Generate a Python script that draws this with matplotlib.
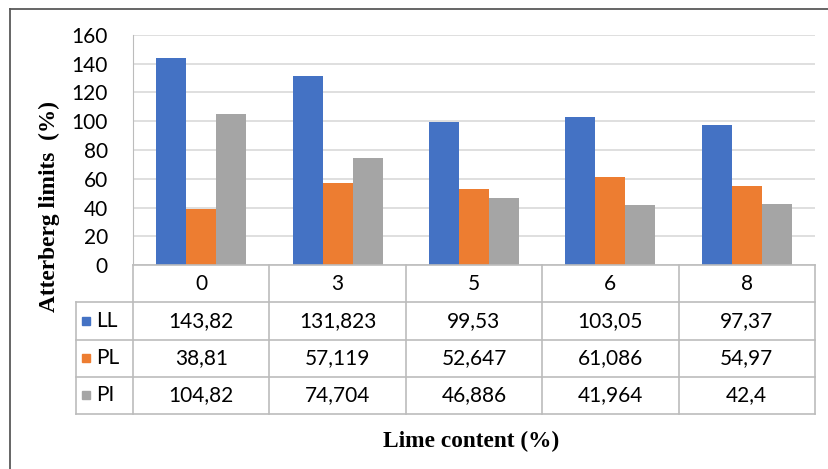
import matplotlib.pyplot as plt
from matplotlib.patches import Rectangle

# Lime content (%) and Atterberg limits
lime = ['0', '3', '5', '6', '8']
series = ['LL', 'PL', 'PI']
LL = [143.82, 131.823, 99.53, 103.05, 97.37]
PL = [38.81, 57.119, 52.647, 61.086, 54.97]
PI = [104.82, 74.704, 46.886, 41.964, 42.4]
colors = ['#4472C4', '#ED7D31', '#A5A5A5']

W, H = 829, 469
fig = plt.figure(figsize=(W / 100, H / 100), dpi=100)
num_font = 'Lato'
fs = 15
grid_c = '#d9d9d9'
tab_c = '#bcbcbc'


def px(x0, y0, x1, y1):
    # pixel box (top-left origin) -> figure fraction rect
    return [x0 / W, 1 - y1 / H, (x1 - x0) / W, (y1 - y0) / H]


# outer chart frame
fig.add_artist(plt.Line2D([10 / W, 10 / W], [0, 1 - 9 / H], color='#595959', lw=1.3))
fig.add_artist(plt.Line2D([10 / W, 1], [1 - 9 / H, 1 - 9 / H], color='#595959', lw=1.3))

# bar area
ax = fig.add_axes(px(133, 35, 815, 265))
bw = 0.22
for i, vals in enumerate([LL, PL, PI]):
    xs = [k + (i - 1) * bw for k in range(len(lime))]
    ax.bar(xs, vals, width=bw, color=colors[i], zorder=3)
ax.set_xlim(-0.5, len(lime) - 0.5)
ax.set_ylim(0, 160)
ax.set_yticks(range(0, 161, 20))
ax.yaxis.grid(True, color=grid_c, lw=1.2, zorder=0)
ax.set_xticks([])
ax.tick_params(axis='y', length=0, pad=18)
for lab in ax.get_yticklabels():
    lab.set_fontfamily(num_font)
    lab.set_fontsize(fs)
for s in ['top', 'right', 'bottom']:
    ax.spines[s].set_visible(False)
ax.spines['left'].set_color(tab_c)

# data table under the bars
cw = (815 - 133) / len(lime)
tx = fig.add_axes(px(76, 265, 815, 414))
tx.set_xlim(-0.5 - (133 - 76) / cw, len(lime) - 0.5)
tx.set_ylim(4, 0)
tx.axis('off')
left = -0.5 - (133 - 76) / cw
lk = dict(color=tab_c, lw=1.2, clip_on=False)
tx.plot([-0.5, len(lime) - 0.5], [0, 0], **lk)
for r in range(1, 5):
    tx.plot([left, len(lime) - 0.5], [r, r], **lk)
for c in range(len(lime) + 1):
    tx.plot([c - 0.5, c - 0.5], [0, 4], **lk)
tx.plot([left, left], [1, 4], **lk)

for c, lab in enumerate(lime):
    tx.text(c, 0.5, lab, ha='center', va='center', fontsize=fs, family=num_font)
for r, (name, vals) in enumerate(zip(series, [LL, PL, PI])):
    y = r + 1.5
    tx.add_patch(Rectangle((left + 0.045, y - 0.11), 0.06, 0.22, color=colors[r], clip_on=False))
    tx.text(left + 0.15, y, name, ha='left', va='center', fontsize=fs, family=num_font)
    for c, v in enumerate(vals):
        tx.text(c, y, f'{v:g}'.replace('.', ','), ha='center', va='center',
                fontsize=fs, family=num_font)

# axis titles
fig.text(49 / W, 1 - 206 / H, 'Atterberg limits  (%)', rotation=90, ha='center', va='center',
         family='Liberation Serif', weight='bold', fontsize=16.8)
fig.text(471 / W, 1 - 441 / H, 'Lime content (%)', ha='center', va='center',
         family='Liberation Serif', weight='bold', fontsize=16.8)

fig.savefig('out.png', dpi=100)
